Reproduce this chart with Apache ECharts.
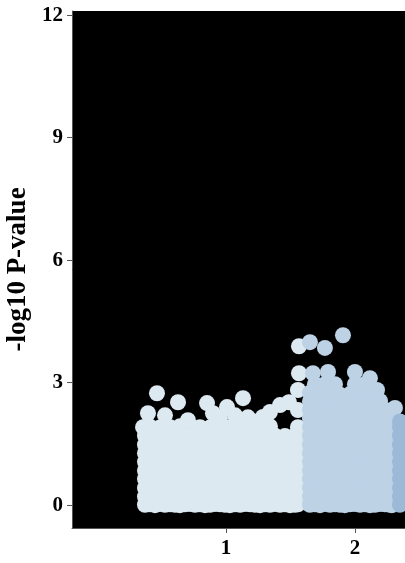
<!DOCTYPE html>
<html><head><meta charset="utf-8">
<script src="https://cdn.jsdelivr.net/npm/echarts@6/dist/echarts.min.js"></script>
<style>html,body{margin:0;padding:0;background:#fff}#c{width:405px;height:563px}</style>
</head><body><div id="c"></div>
<script>
// Tick labels
const yTicks = [0, 3, 6, 9, 12];
const xTicks = [1, 2];
const xTickLabels = ['1', '2'];

// Chromosome 1 : positions (cumulative axis units) and -log10 P values
const chr1Pos = [
  0.372,0.411,0.450,0.488,0.527,0.566,0.605,0.643,0.682,0.721,0.760,0.798,0.837,0.876,0.915,0.953,0.992,1.031,1.070,1.109,1.147,1.186,1.225,1.264,1.302,1.341,1.380,1.419,1.457,1.496,1.535,1.558,
  0.372,0.411,0.488,0.566,0.643,0.721,0.798,0.876,0.953,1.031,1.109,1.186,1.264,1.341,1.419,1.496,1.558,
  0.372,0.450,0.527,0.605,0.682,0.760,0.837,0.915,0.992,1.070,1.147,1.225,1.302,1.380,1.457,1.535,1.558,
  0.372,0.411,0.488,0.566,0.643,0.721,0.798,0.876,0.953,1.031,1.109,1.186,1.264,1.341,1.419,1.496,1.558,
  0.372,0.450,0.527,0.605,0.682,0.760,0.837,0.915,0.992,1.070,1.147,1.225,1.302,1.380,1.457,1.535,1.558,
  0.372,0.411,0.488,0.566,0.643,0.721,0.798,0.876,0.953,1.031,1.109,1.186,1.264,1.341,1.419,1.496,1.558,
  0.372,0.450,0.527,0.605,0.682,0.760,0.837,0.915,0.992,1.070,1.147,1.225,1.302,1.380,1.457,1.535,1.558,
  0.372,0.411,0.488,0.566,0.643,0.721,0.798,0.876,0.953,1.031,1.109,1.186,1.264,1.341,1.419,1.496,1.558,
  0.372,0.450,0.527,0.605,0.682,0.760,0.837,0.915,0.992,1.070,1.147,1.225,1.302,1.380,1.457,1.535,1.558,
  0.372,0.411,0.488,0.566,0.643,0.798,0.876,0.953,1.031,1.109,1.186,1.264,1.341,1.558,
  0.357,0.395,0.465,0.527,0.628,0.705,0.775,0.853,0.899,0.953,1.008,1.070,1.132,1.170,1.240,1.287,1.341,1.419,1.488,1.558,1.558,1.566,1.566
];
const chr1LogP = [
  0.01,0.02,0.00,0.03,0.01,0.02,0.01,0.00,0.02,0.03,0.01,0.02,0.00,0.01,0.03,0.02,0.01,0.00,0.02,0.01,0.03,0.02,0.01,0.00,0.02,0.01,0.03,0.01,0.02,0.00,0.01,0.02,
  0.21,0.22,0.20,0.21,0.23,0.21,0.20,0.22,0.21,0.22,0.20,0.21,0.23,0.21,0.22,0.20,0.21,
  0.42,0.43,0.41,0.42,0.44,0.42,0.41,0.43,0.42,0.41,0.43,0.42,0.44,0.42,0.41,0.43,0.42,
  0.64,0.63,0.65,0.64,0.62,0.64,0.65,0.63,0.64,0.65,0.63,0.64,0.62,0.64,0.65,0.63,0.64,
  0.85,0.86,0.84,0.85,0.87,0.85,0.84,0.86,0.85,0.84,0.86,0.85,0.87,0.85,0.84,0.86,0.85,
  1.06,1.05,1.07,1.06,1.04,1.06,1.07,1.05,1.06,1.07,1.05,1.06,1.04,1.06,1.07,1.05,1.06,
  1.27,1.28,1.26,1.27,1.29,1.27,1.26,1.28,1.27,1.26,1.28,1.27,1.29,1.27,1.26,1.28,1.27,
  1.48,1.47,1.49,1.48,1.46,1.48,1.49,1.47,1.48,1.49,1.47,1.48,1.46,1.48,1.49,1.47,1.48,
  1.70,1.71,1.69,1.70,1.72,1.70,1.69,1.71,1.70,1.69,1.71,1.70,1.72,1.70,1.69,1.71,1.70,
  1.91,1.92,1.90,1.91,1.93,1.91,1.90,1.92,1.91,1.90,1.92,1.91,1.93,1.91,
  1.91,2.25,2.74,2.20,2.52,2.08,1.85,2.50,2.25,2.13,2.40,2.20,2.62,2.15,2.05,2.16,2.28,2.45,2.52,2.33,2.82,3.23,3.89
];

// Chromosome 2
const chr2Pos = [
  1.651,1.690,1.729,1.767,1.806,1.845,1.884,1.922,1.961,2.000,2.039,2.078,2.116,2.155,2.194,2.233,2.271,2.287,
  1.651,1.690,1.767,1.845,1.922,2.000,2.078,2.155,2.233,2.287,
  1.651,1.729,1.806,1.884,1.961,2.039,2.116,2.194,2.271,
  1.651,1.690,1.767,1.845,1.922,2.000,2.078,2.155,2.233,2.287,
  1.651,1.729,1.806,1.884,1.961,2.039,2.116,2.194,2.271,
  1.651,1.690,1.767,1.845,1.922,2.000,2.078,2.155,2.233,2.287,
  1.651,1.729,1.806,1.884,1.961,2.039,2.116,2.194,2.271,
  1.651,1.690,1.767,1.845,1.922,2.000,2.078,2.155,2.233,2.287,
  1.651,1.729,1.806,1.884,1.961,2.039,2.116,2.194,2.271,
  1.651,1.690,1.767,1.845,1.922,2.000,2.078,2.155,2.233,2.287,
  1.651,1.729,1.806,1.884,1.961,2.039,2.116,2.194,2.271,
  1.651,1.690,1.767,1.845,1.922,2.000,2.078,2.155,2.233,
  1.651,1.729,1.806,1.884,1.961,2.039,2.116,2.194,
  1.651,1.729,1.806,1.884,1.961,2.039,2.116,
  1.690,1.767,1.845,2.000,2.078,
  1.651,1.767,1.907,1.674,1.791,2.000,2.116,2.171,2.310
];
const chr2LogP = [
  0.01,0.02,0.00,0.03,0.01,0.02,0.01,0.00,0.02,0.03,0.01,0.02,0.00,0.01,0.03,0.02,0.01,0.00,
  0.21,0.22,0.20,0.21,0.23,0.21,0.20,0.22,0.21,0.22,
  0.42,0.43,0.41,0.42,0.44,0.42,0.41,0.43,0.42,
  0.64,0.63,0.65,0.64,0.62,0.64,0.65,0.63,0.64,0.65,
  0.85,0.86,0.84,0.85,0.87,0.85,0.84,0.86,0.85,
  1.06,1.05,1.07,1.06,1.04,1.06,1.07,1.05,1.06,1.07,
  1.27,1.28,1.26,1.27,1.29,1.27,1.26,1.28,1.27,
  1.48,1.47,1.49,1.48,1.46,1.48,1.49,1.47,1.48,1.49,
  1.70,1.71,1.69,1.70,1.72,1.70,1.69,1.71,1.70,
  1.91,1.92,1.90,1.91,1.93,1.91,1.90,1.92,1.91,1.90,
  2.12,2.13,2.11,2.12,2.14,2.12,2.11,2.13,2.12,
  2.33,2.32,2.34,2.33,2.31,2.33,2.34,2.32,2.33,
  2.54,2.55,2.53,2.54,2.56,2.54,2.53,2.55,
  2.75,2.75,2.76,2.70,2.72,2.78,2.75,
  2.96,2.96,2.96,2.96,2.96,
  3.99,3.85,4.16,3.23,3.26,3.26,3.11,2.82,2.38
];

// Chromosome 3 (partly visible at the right edge)
const chr3Pos = [2.349,2.349,2.349,2.349,2.349,2.349,2.349,2.349,2.349,2.349,2.349];
const chr3LogP = [0.01,0.21,0.42,0.64,0.85,1.06,1.27,1.48,1.70,1.91,2.05];

const colors = ['#dde9f1', '#bed2e6', '#9db9d8'];
const pair = (p, v) => p.map((x, i) => [x, v[i]]);

const font = 'Liberation Serif, Times New Roman, serif';
const chart = echarts.init(document.getElementById('c'));
const pointStyle = c => ({ color: c, opacity: 1, borderWidth: 0 });
chart.setOption({
  animation: false,
  backgroundColor: '#fff',
  grid: { left: 72, right: 0, top: 11, bottom: 35, show: true, backgroundColor: '#000', borderWidth: 0, containLabel: false, outerBoundsMode: 'none' },
  xAxis: {
    type: 'value', min: -0.194, max: 2.388,
    axisLine: { show: true, onZero: false, lineStyle: { color: '#555', width: 1 } },
    axisTick: { show: true, customValues: xTicks, length: 5, lineStyle: { color: '#555' } },
    axisLabel: { customValues: xTicks, formatter: v => xTickLabels[xTicks.indexOf(v)], fontFamily: font, fontWeight: 'bold', fontSize: 21, color: '#000', margin: 10 },
    splitLine: { show: false }
  },
  yAxis: {
    type: 'value', min: -0.56, max: 12.1,
    name: '-log10 P-value', nameLocation: 'middle', nameGap: 32,
    nameTextStyle: { fontFamily: font, fontWeight: 'bold', fontSize: 27, color: '#000' },
    axisLine: { show: true, onZero: false, lineStyle: { color: '#555', width: 1 } },
    axisTick: { show: true, customValues: yTicks, length: 5, lineStyle: { color: '#555' } },
    axisLabel: { customValues: yTicks, fontFamily: font, fontWeight: 'bold', fontSize: 21, color: '#000', margin: 9 },
    splitLine: { show: false }
  },
  series: [
    { type: 'scatter', data: pair(chr1Pos, chr1LogP), symbolSize: 16, itemStyle: pointStyle(colors[0]), emphasis: { disabled: true }, silent: true, large: false },
    { type: 'scatter', data: pair(chr2Pos, chr2LogP), symbolSize: 16, itemStyle: pointStyle(colors[1]), emphasis: { disabled: true }, silent: true, large: false },
    { type: 'scatter', data: pair(chr3Pos, chr3LogP), symbolSize: 16, itemStyle: pointStyle(colors[2]), emphasis: { disabled: true }, silent: true, large: false }
  ]
});
</script></body></html>
